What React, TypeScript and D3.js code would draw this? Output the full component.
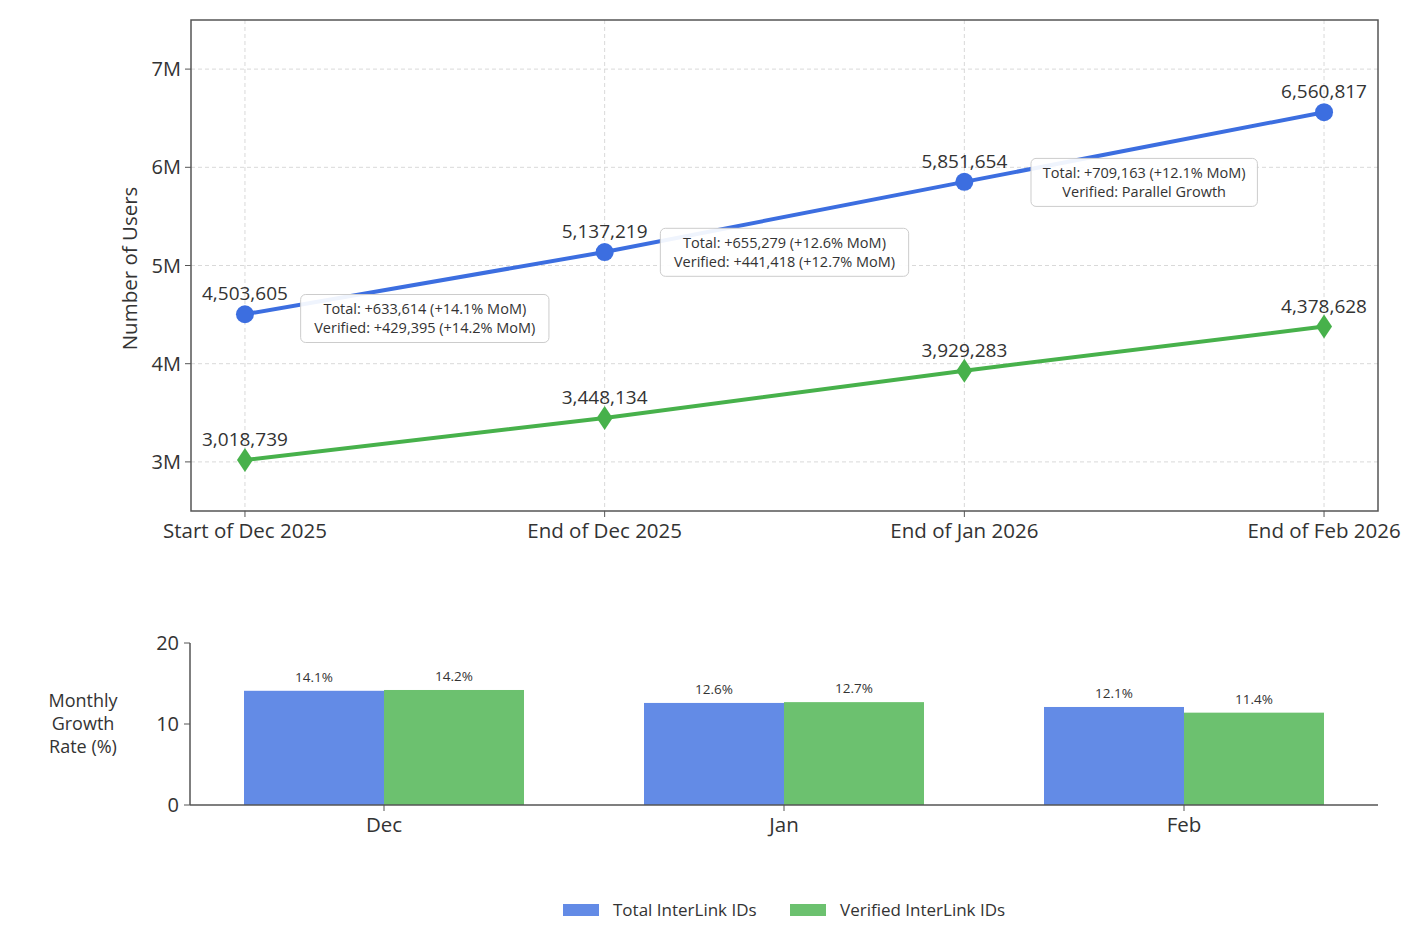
import React from "react";
import * as d3 from "d3";

// period labels on the line chart
const periods = ["Start of Dec 2025", "End of Dec 2025", "End of Jan 2026", "End of Feb 2026"];
const totalUsers = [4503605, 5137219, 5851654, 6560817];
const verifiedUsers = [3018739, 3448134, 3929283, 4378628];
const userTicks = [3e6, 4e6, 5e6, 6e6, 7e6];

// notes between points
const noteTotal = ["+633,614 (+14.1% MoM)", "+655,279 (+12.6% MoM)", "+709,163 (+12.1% MoM)"];
const noteVerified = ["+429,395 (+14.2% MoM)", "+441,418 (+12.7% MoM)", "Parallel Growth"];

// growth bars
const months = ["Dec", "Jan", "Feb"];
const totalGrowth = [14.1, 12.6, 12.1];
const verifiedGrowth = [14.2, 12.7, 11.4];
const growthTicks = [0, 10, 20];

const seriesNames = ["Total InterLink IDs", "Verified InterLink IDs"];

const BLUE = "#3c6ee0";
const GREEN = "#47b14b";
const TEXT = "#333";
const FONT = "'Open Sans', Roboto, sans-serif";

const W = 1414;
const H = 932;

function App() {
  // ---- line chart ----
  const top = { left: 191, right: 1378, top: 20, bottom: 511 };
  const x = d3
    .scaleLinear()
    .domain([-0.15, periods.length - 1 + 0.15])
    .range([top.left, top.right]);
  const y = d3.scaleLinear().domain([2.5e6, 7.5e6]).range([top.bottom, top.top]);

  const line = d3
    .line<number>()
    .x((_, i) => x(i))
    .y((d) => y(d));

  const fmt = d3.format(",");
  const fmtM = (v: number) => `${v / 1e6}M`;

  // ---- bar chart ----
  const bot = { left: 190, right: 1378, top: 643, bottom: 805 };
  const bx = d3
    .scaleLinear()
    .domain([-0.485, months.length - 1 + 0.485])
    .range([bot.left, bot.right]);
  const by = d3.scaleLinear().domain([0, 20]).range([bot.bottom, bot.top]);
  const barW = bx(0.35) - bx(0);

  const diamond = (cx: number, cy: number) =>
    `M${cx},${cy - 12}L${cx + 8},${cy}L${cx},${cy + 12}L${cx - 8},${cy}Z`;

  return (
    <svg
      width={W}
      height={H}
      style={{ position: "absolute", left: 0, top: 0, background: "#fff" }}
      fontFamily={FONT}
    >
      {/* grid */}
      <g stroke="#d9d9d9" strokeWidth={1} strokeDasharray="4,3">
        {userTicks.map((t) => (
          <line key={t} x1={top.left} x2={top.right} y1={y(t)} y2={y(t)} />
        ))}
        {periods.map((_, i) => (
          <line key={i} x1={x(i)} x2={x(i)} y1={top.top} y2={top.bottom} />
        ))}
      </g>

      {/* frame */}
      <rect
        x={top.left}
        y={top.top}
        width={top.right - top.left}
        height={top.bottom - top.top}
        fill="none"
        stroke="#555"
        strokeWidth={1.5}
      />

      {/* y axis */}
      <g fill={TEXT} fontSize={20}>
        {userTicks.map((t) => (
          <g key={t}>
            <line x1={top.left - 6} x2={top.left} y1={y(t)} y2={y(t)} stroke="#555" />
            <text x={top.left - 10} y={y(t)} dy="0.35em" textAnchor="end">
              {fmtM(t)}
            </text>
          </g>
        ))}
      </g>
      <text
        transform={`translate(137,${(top.top + top.bottom) / 2 + 3}) rotate(-90)`}
        textAnchor="middle"
        fontSize={20.5}
        fill={TEXT}
      >
        Number of Users
      </text>

      {/* x axis */}
      <g fill={TEXT} fontSize={20.5}>
        {periods.map((p, i) => (
          <g key={p}>
            <line x1={x(i)} x2={x(i)} y1={top.bottom} y2={top.bottom + 6} stroke="#555" />
            <text x={x(i)} y={top.bottom + 27} textAnchor="middle">
              {p}
            </text>
          </g>
        ))}
      </g>

      {/* lines */}
      <path d={line(totalUsers) ?? ""} fill="none" stroke={BLUE} strokeWidth={4} />
      <path d={line(verifiedUsers) ?? ""} fill="none" stroke={GREEN} strokeWidth={4} />

      {totalUsers.map((v, i) => (
        <g key={"t" + i}>
          <circle cx={x(i)} cy={y(v)} r={9} fill={BLUE} />
          <text x={x(i)} y={y(v) - 14} textAnchor="middle" fontSize={19} fill={TEXT}>
            {fmt(v)}
          </text>
        </g>
      ))}
      {verifiedUsers.map((v, i) => (
        <g key={"v" + i}>
          <path d={diamond(x(i), y(v))} fill={GREEN} />
          <text x={x(i)} y={y(v) - 14} textAnchor="middle" fontSize={19} fill={TEXT}>
            {fmt(v)}
          </text>
        </g>
      ))}

      {/* notes between points */}
      {noteTotal.map((t, i) => {
        const cx = x(i + 0.5);
        const cy = y((totalUsers[i] + totalUsers[i + 1]) / 2 - 0.36e6);
        const l1 = `Total: ${t}`;
        const l2 = `Verified: ${noteVerified[i]}`;
        const w = Math.max(l1.length, l2.length) * 7.3 + 22;
        return (
          <g key={"n" + i}>
            <rect
              x={cx - w / 2}
              y={cy - 24}
              width={w}
              height={48}
              rx={5}
              fill="#fff"
              fillOpacity={0.92}
              stroke="#ccc"
            />
            <text x={cx} y={cy - 4} textAnchor="middle" fontSize={14.5} fill={TEXT}>
              {l1}
            </text>
            <text x={cx} y={cy + 15} textAnchor="middle" fontSize={14.5} fill={TEXT}>
              {l2}
            </text>
          </g>
        );
      })}

      {/* ---- bar chart ---- */}
      {months.map((m, i) => (
        <g key={m}>
          <rect
            x={bx(i) - barW}
            y={by(totalGrowth[i])}
            width={barW}
            height={by(0) - by(totalGrowth[i])}
            fill={BLUE}
            fillOpacity={0.8}
          />
          <rect
            x={bx(i)}
            y={by(verifiedGrowth[i])}
            width={barW}
            height={by(0) - by(verifiedGrowth[i])}
            fill={GREEN}
            fillOpacity={0.8}
          />
          <text
            x={bx(i) - barW / 2}
            y={by(totalGrowth[i]) - 9}
            textAnchor="middle"
            fontSize={13.5}
            fill={TEXT}
          >
            {totalGrowth[i]}%
          </text>
          <text
            x={bx(i) + barW / 2}
            y={by(verifiedGrowth[i]) - 9}
            textAnchor="middle"
            fontSize={13.5}
            fill={TEXT}
          >
            {verifiedGrowth[i]}%
          </text>
          <line x1={bx(i)} x2={bx(i)} y1={bot.bottom} y2={bot.bottom + 6} stroke="#555" />
          <text x={bx(i)} y={bot.bottom + 27} textAnchor="middle" fontSize={20.5} fill={TEXT}>
            {m}
          </text>
        </g>
      ))}
      <line x1={bot.left} x2={bot.right} y1={bot.bottom} y2={bot.bottom} stroke="#555" strokeWidth={1.5} />
      <line x1={bot.left} x2={bot.left} y1={bot.top} y2={bot.bottom} stroke="#555" strokeWidth={1.5} />
      {growthTicks.map((t) => (
        <g key={t}>
          <line x1={bot.left - 6} x2={bot.left} y1={by(t)} y2={by(t)} stroke="#555" />
          <text x={bot.left - 11} y={by(t)} dy="0.35em" textAnchor="end" fontSize={20} fill={TEXT}>
            {t}
          </text>
        </g>
      ))}
      <text textAnchor="middle" fontSize={18} fill={TEXT}>
        <tspan x={83} y={707}>Monthly</tspan>
        <tspan x={83} y={730}>Growth</tspan>
        <tspan x={83} y={753}>Rate (%)</tspan>
      </text>

      {/* legend */}
      {seriesNames.map((s, i) => (
        <g key={s} transform={`translate(${563 + i * 227},904)`}>
          <rect width={36} height={12} fill={i === 0 ? BLUE : GREEN} fillOpacity={0.8} />
          <text x={50} y={12} fontSize={17} fill={TEXT}>
            {s}
          </text>
        </g>
      ))}
    </svg>
  );
}

export default App;
